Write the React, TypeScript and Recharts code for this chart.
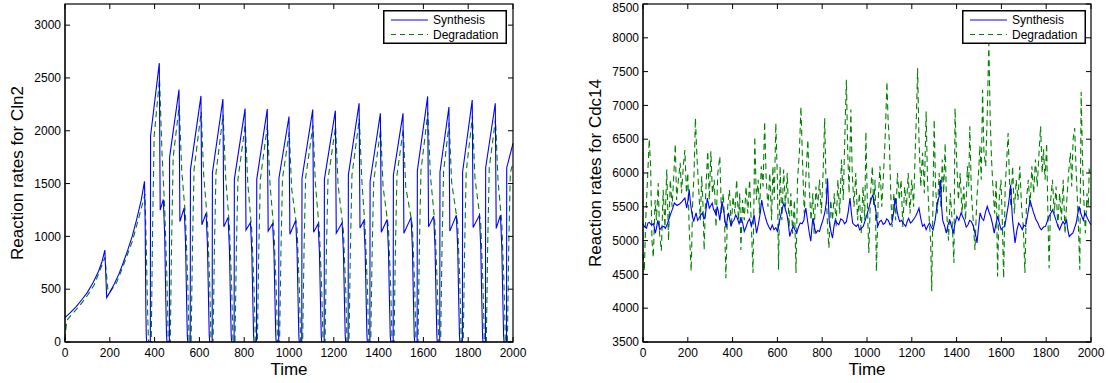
import React from "react";
import { LineChart, Line, XAxis, YAxis } from "recharts";

const FONT = "'Liberation Sans', Arial, Helvetica, sans-serif";

const timeTicks = [0, 200, 400, 600, 800, 1000, 1200, 1400, 1600, 1800, 2000];
const cln2Ticks = [0, 500, 1000, 1500, 2000, 2500, 3000];
const cdc14Ticks = [3500, 4000, 4500, 5000, 5500, 6000, 6500, 7000, 7500, 8000, 8500];

// Cln2 reaction rates [time, rate]
const cln2Synthesis: [number, number][] = [
  [0, 230], [25, 280], [50, 335], [75, 400], [100, 470], [125, 560], [150, 670], [165, 760], [178, 870],
  [186, 420], [200, 470], [220, 550], [240, 640], [260, 750], [280, 870], [300, 1000], [320, 1160],
  [340, 1340], [355, 1520], [358, 1100], [361, 300], [363, 50], [365, 0], [381, 0],
  [382, 1950], [421, 2640], [425, 1250], [439, 1350], [445, 1010], [450, 400], [453, 80], [455, 0], [466, 0],
  [467, 1750], [509, 2390], [513, 1140], [532, 1270], [538, 950], [543, 380], [546, 60], [548, 0], [559, 0],
  [560, 1630], [607, 2330], [611, 1110], [630, 1220], [636, 915], [641, 365], [644, 60], [646, 0], [657, 0],
  [658, 1600], [705, 2300], [709, 1090], [728, 1180], [734, 885], [739, 355], [742, 60], [744, 0], [755, 0],
  [756, 1540], [804, 2210], [808, 1060], [828, 1130], [834, 850], [839, 340], [842, 60], [844, 0], [855, 0],
  [856, 1540], [903, 2205], [907, 1050], [927, 1120], [933, 840], [938, 335], [941, 60], [943, 0], [954, 0],
  [955, 1550], [1000, 2135], [1004, 1020], [1030, 1150], [1036, 860], [1041, 345], [1044, 60], [1046, 0], [1057, 0],
  [1058, 1550], [1106, 2200], [1110, 1040], [1130, 1120], [1136, 840], [1141, 335], [1144, 60], [1146, 0], [1157, 0],
  [1158, 1540], [1207, 2190], [1211, 1030], [1237, 1130], [1243, 850], [1248, 340], [1251, 60], [1253, 0], [1264, 0],
  [1265, 1580], [1313, 2260], [1317, 1080], [1334, 1150], [1340, 860], [1345, 345], [1348, 60], [1350, 0], [1361, 0],
  [1362, 1520], [1408, 2165], [1412, 1040], [1438, 1160], [1444, 870], [1449, 350], [1452, 60], [1454, 0], [1465, 0],
  [1466, 1580], [1509, 2165], [1513, 1030], [1545, 1180], [1551, 885], [1556, 355], [1559, 60], [1561, 0], [1572, 0],
  [1573, 1620], [1619, 2325], [1623, 1090], [1646, 1190], [1652, 890], [1657, 355], [1660, 60], [1662, 0], [1673, 0],
  [1674, 1610], [1714, 2225], [1718, 1050], [1747, 1200], [1753, 900], [1758, 360], [1761, 60], [1763, 0], [1774, 0],
  [1775, 1610], [1818, 2290], [1822, 1085], [1850, 1200], [1856, 900], [1861, 360], [1864, 60], [1866, 0], [1877, 0],
  [1878, 1650], [1921, 2260], [1925, 1075], [1944, 1200], [1950, 900], [1955, 360], [1958, 60], [1960, 0], [1971, 0],
  [1972, 1650], [2000, 1880],
];

const cln2Degradation: [number, number][] = [
  [0, 20], [5, 150], [12, 215], [30, 260], [60, 330], [100, 440], [130, 540], [160, 700], [178, 800],
  [185, 650], [192, 480], [200, 470], [230, 560], [260, 720], [300, 950], [330, 1180], [357, 1400],
  [363, 900], [368, 350], [372, 50], [374, 0], [385, 0],
  [391, 1070], [398, 1950], [422, 2490], [433, 1795], [445, 1270], [455, 610], [461, 0], [470, 0],
  [476, 960], [483, 1750], [510, 2240], [521, 1625], [538, 1190], [548, 570], [554, 0], [563, 0],
  [569, 900], [576, 1630], [608, 2180], [619, 1585], [636, 1140], [646, 550], [652, 0], [661, 0],
  [667, 880], [674, 1600], [706, 2150], [717, 1565], [734, 1100], [744, 530], [750, 0], [759, 0],
  [765, 850], [772, 1540], [805, 2060], [816, 1500], [834, 1050], [844, 510], [850, 0], [859, 0],
  [865, 850], [872, 1540], [904, 2055], [915, 1500], [933, 1040], [943, 505], [949, 0], [958, 0],
  [964, 850], [971, 1550], [1001, 1985], [1012, 1450], [1036, 1070], [1046, 520], [1052, 0], [1061, 0],
  [1067, 850], [1074, 1550], [1107, 2050], [1118, 1495], [1136, 1040], [1146, 505], [1152, 0], [1161, 0],
  [1167, 850], [1174, 1540], [1208, 2040], [1219, 1490], [1243, 1050], [1253, 510], [1259, 0], [1268, 0],
  [1274, 870], [1281, 1580], [1314, 2110], [1325, 1535], [1340, 1070], [1350, 520], [1356, 0], [1365, 0],
  [1371, 835], [1378, 1520], [1409, 2015], [1420, 1470], [1444, 1080], [1454, 520], [1460, 0], [1469, 0],
  [1475, 870], [1482, 1580], [1510, 2015], [1521, 1470], [1551, 1100], [1561, 530], [1567, 0], [1576, 0],
  [1582, 890], [1589, 1620], [1620, 2175], [1631, 1580], [1652, 1110], [1662, 535], [1668, 0], [1677, 0],
  [1683, 885], [1690, 1610], [1715, 2075], [1726, 1515], [1753, 1120], [1763, 540], [1769, 0], [1778, 0],
  [1784, 885], [1791, 1610], [1819, 2140], [1830, 1555], [1856, 1120], [1866, 540], [1872, 0], [1881, 0],
  [1887, 910], [1894, 1650], [1922, 2110], [1933, 1535], [1950, 1120], [1960, 540], [1966, 0], [1975, 0],
  [1981, 900], [1988, 1600], [2000, 1700],
];

// Cdc14 reaction rates [time, rate]
const cdc14Synthesis: [number, number][] = [
  [0, 5250], [8, 5200], [16, 5185], [22, 5260], [28, 5270], [38, 5230], [47, 5250], [55, 5110], [60, 5180],
  [66, 5300], [75, 5160], [84, 5200], [94, 5210], [100, 5180], [109, 5250], [117, 5330], [125, 5410], [132, 5470],
  [140, 5555], [152, 5520], [164, 5545], [172, 5570], [179, 5600], [187, 5630], [195, 5480], [201, 5600],
  [206, 5760], [212, 5550], [218, 5410], [226, 5280], [232, 5350], [237, 5410], [244, 5300], [250, 5330],
  [258, 5380], [265, 5410], [272, 5320], [278, 5360], [287, 5630], [296, 5480], [303, 5520], [309, 5555],
  [315, 5460], [320, 5430], [326, 5380], [331, 5505], [337, 5420], [343, 5300], [348, 5450], [353, 5580],
  [358, 5480], [362, 5410], [366, 5300], [371, 5190], [377, 5330], [382, 5410], [388, 5300], [393, 5210],
  [400, 5280], [406, 5300], [414, 5380], [421, 5330], [429, 5250], [437, 5330], [445, 5260], [452, 5135],
  [460, 5200], [468, 5280], [476, 5320], [484, 5210], [490, 5290], [496, 5380], [502, 5240], [507, 5110],
  [512, 5190], [518, 5300], [524, 5420], [530, 5600], [534, 5520], [538, 5455], [546, 5350], [554, 5260],
  [562, 5200], [569, 5160], [577, 5230], [585, 5160], [593, 5190], [600, 5135], [606, 5230], [612, 5330],
  [620, 5450], [629, 5555], [636, 5460], [643, 5380], [649, 5250], [655, 5060], [663, 5150], [671, 5210],
  [678, 5160], [686, 5110], [694, 5200], [702, 5260], [710, 5250], [718, 5300], [722, 5400], [727, 5480],
  [731, 5380], [736, 5260], [742, 5120], [749, 4990], [753, 5150], [758, 5330], [765, 5200], [772, 5110],
  [780, 5150], [788, 5135], [795, 5220], [803, 5300], [809, 5380], [814, 5455], [819, 5600], [824, 5920],
  [828, 5550], [831, 5300], [838, 5150], [846, 5035], [852, 5200], [858, 5300], [866, 5260], [874, 5235],
  [883, 5320], [892, 5300], [900, 5250], [908, 5280], [916, 5420], [924, 5630], [930, 5420], [936, 5260],
  [944, 5230], [952, 5210], [960, 5240], [967, 5160], [975, 5180], [983, 5210], [992, 5300], [1002, 5410],
  [1008, 5480], [1014, 5555], [1020, 5620], [1026, 5680], [1032, 5560], [1039, 5455], [1044, 5300], [1048, 5210],
  [1056, 5280], [1064, 5300], [1072, 5240], [1080, 5260], [1088, 5320], [1095, 5300], [1103, 5230], [1111, 5260],
  [1118, 5400], [1126, 5630], [1132, 5480], [1139, 5360], [1146, 5280], [1154, 5300], [1163, 5250], [1173, 5210],
  [1180, 5290], [1186, 5330], [1194, 5260], [1201, 5280], [1209, 5320], [1217, 5360], [1225, 5420], [1232, 5480],
  [1240, 5330], [1248, 5210], [1256, 5240], [1264, 5160], [1272, 5220], [1279, 5260], [1287, 5200], [1295, 5160],
  [1304, 5300], [1314, 5555], [1322, 5650], [1329, 5900], [1333, 5500], [1338, 5300], [1346, 5220], [1354, 5110],
  [1362, 5240], [1370, 5300], [1378, 5200], [1385, 5110], [1393, 5250], [1401, 5360], [1410, 5300], [1420, 5410],
  [1428, 5350], [1435, 5300], [1443, 5200], [1451, 5235], [1458, 5300], [1466, 5280], [1474, 5220], [1482, 5110],
  [1487, 5050], [1491, 4965], [1498, 5200], [1505, 5410], [1513, 5330], [1521, 5300], [1529, 5420], [1537, 5505],
  [1545, 5420], [1552, 5360], [1560, 5250], [1568, 5110], [1576, 5250], [1583, 5360], [1591, 5260], [1599, 5160],
  [1607, 5200], [1615, 5210], [1622, 5350], [1630, 5505], [1636, 5650], [1641, 5825], [1646, 5500], [1650, 5300],
  [1656, 5120], [1661, 4965], [1669, 5150], [1677, 5260], [1685, 5220], [1693, 5160], [1700, 5230], [1708, 5210],
  [1718, 5400], [1728, 5600], [1736, 5500], [1744, 5410], [1753, 5320], [1763, 5260], [1770, 5200], [1778, 5160],
  [1788, 5200], [1797, 5210], [1805, 5290], [1813, 5360], [1820, 5400], [1828, 5455], [1836, 5380], [1844, 5300],
  [1852, 5220], [1860, 5160], [1868, 5230], [1875, 5280], [1883, 5240], [1891, 5300], [1897, 5150], [1903, 5060],
  [1911, 5090], [1919, 5110], [1926, 5180], [1934, 5260], [1940, 5380], [1947, 5505], [1953, 5420], [1959, 5360],
  [1966, 5300], [1972, 5410], [1978, 5380], [1984, 5330], [1992, 5280], [2000, 5235],
];

const cdc14Degradation: [number, number][] = [
  [0, 4800], [6, 4550], [12, 5300], [20, 5900], [28, 6500], [34, 6100], [40, 5000], [46, 4750], [54, 5600],
  [60, 5300], [68, 5850], [74, 5100], [82, 4850], [90, 5750], [98, 5200], [106, 6050], [114, 5000], [122, 5900],
  [130, 5500], [138, 6000], [144, 6430], [150, 5600], [158, 5900], [166, 6150], [172, 5700], [180, 6100],
  [187, 6340], [194, 5700], [200, 6000], [206, 5200], [215, 4550], [222, 5600], [228, 6000], [234, 6810],
  [240, 6300], [248, 5800], [256, 5300], [262, 5950], [268, 5500], [273, 4860], [280, 5700], [289, 6320],
  [296, 5600], [303, 6320], [310, 5700], [318, 5900], [326, 5200], [334, 6000], [343, 6245], [350, 5400],
  [358, 5700], [364, 5300], [370, 4445], [378, 5500], [386, 5750], [394, 5200], [402, 5650], [410, 5400],
  [418, 5900], [426, 5300], [432, 5700], [437, 4860], [444, 5600], [452, 5300], [460, 5800], [468, 5400],
  [476, 5900], [484, 5200], [491, 4520], [499, 6540], [506, 5600], [514, 5900], [520, 5400], [528, 6100],
  [536, 5800], [543, 6760], [550, 5900], [558, 5500], [566, 6000], [574, 5300], [580, 6100], [586, 5600],
  [593, 6735], [600, 5900], [605, 4570], [612, 6100], [620, 5300], [628, 6050], [636, 5500], [644, 6000],
  [652, 5200], [660, 5700], [668, 5100], [676, 5600], [683, 4520], [690, 5900], [698, 6300], [705, 6980],
  [712, 6200], [720, 5400], [728, 6000], [736, 6490], [742, 5800], [750, 5300], [758, 5700], [764, 5100],
  [772, 5800], [780, 5500], [788, 5900], [796, 5400], [804, 6000], [811, 6810], [818, 5700], [824, 5200],
  [830, 4890], [838, 5600], [846, 5300], [854, 5700], [862, 5200], [870, 5900], [878, 5400], [886, 6200],
  [894, 5600], [900, 6400], [908, 7380], [914, 6300], [920, 5700], [928, 6940], [934, 6000], [942, 5500],
  [950, 6000], [958, 5300], [966, 5700], [974, 5100], [982, 5800], [990, 5300], [995, 6610], [1002, 5500],
  [1008, 4815], [1016, 5700], [1024, 6100], [1030, 5500], [1036, 5900], [1042, 4545], [1050, 5600], [1058, 6100],
  [1066, 5500], [1074, 6000], [1082, 6600], [1089, 7350], [1094, 6800], [1100, 6440], [1106, 5700], [1112, 5200],
  [1120, 5700], [1128, 5300], [1136, 6000], [1144, 5600], [1152, 5900], [1160, 5200], [1168, 5800], [1176, 5500],
  [1184, 6000], [1192, 5400], [1200, 5900], [1208, 5500], [1216, 6400], [1221, 6900], [1226, 7550], [1232, 6500],
  [1240, 5800], [1248, 6300], [1256, 5700], [1264, 6910], [1270, 5900], [1278, 5300], [1284, 5000], [1289, 4250],
  [1294, 5500], [1300, 6790], [1306, 5800], [1314, 5400], [1322, 6000], [1330, 5500], [1336, 6200], [1342, 5700],
  [1349, 6440], [1356, 5400], [1364, 5000], [1372, 5700], [1380, 5300], [1388, 4670], [1393, 6960], [1400, 6200],
  [1408, 5600], [1416, 6000], [1424, 5400], [1432, 5800], [1440, 5300], [1448, 6100], [1454, 5800], [1459, 6690],
  [1466, 5700], [1474, 5300], [1482, 4860], [1490, 5600], [1498, 6000], [1504, 6400], [1510, 5900], [1516, 7230],
  [1522, 6300], [1530, 6100], [1537, 6900], [1544, 7920], [1550, 6800], [1556, 6200], [1562, 5800], [1570, 5400],
  [1577, 5900], [1583, 4470], [1590, 5600], [1598, 5900], [1604, 5300], [1610, 4445], [1617, 5800], [1624, 6200],
  [1630, 6590], [1636, 5900], [1642, 5500], [1650, 6100], [1658, 5400], [1666, 5900], [1674, 5600], [1682, 6100],
  [1690, 5500], [1698, 5200], [1705, 4520], [1712, 5600], [1720, 5900], [1728, 5500], [1736, 6100], [1744, 5700],
  [1752, 6200], [1760, 5800], [1768, 6300], [1775, 6690], [1782, 6000], [1788, 6350], [1795, 5900], [1802, 6440],
  [1808, 5300], [1813, 4590], [1820, 5600], [1828, 5900], [1836, 5400], [1844, 5800], [1852, 5200], [1860, 5700],
  [1868, 5300], [1876, 5900], [1884, 5100], [1892, 5600], [1900, 6000], [1908, 6300], [1914, 5800], [1920, 6500],
  [1927, 6665], [1934, 6000], [1942, 5400], [1950, 4570], [1956, 7200], [1962, 6200], [1968, 5600], [1975, 5110],
  [1982, 5700], [1988, 5500], [1992, 6050], [2000, 6000],
];

const toRows = (pts: [number, number][]) => pts.map(([t, v]) => ({ t, v }));

const BLUE = "#0000ff";
const GREEN = "#008000";
const tickStyle = { fontSize: 12, fill: "#000", fontFamily: FONT };

// plot box inside each 530 x 383 panel
const BOX = { left: 65, top: 4, width: 448, height: 338 };
const TICK = 5;

interface PanelProps {
  left: number;
  domain: [number, number];
  yTicks: number[];
  yLabel: string;
  synthesis: [number, number][];
  degradation: [number, number][];
}

const Panel: React.FC<PanelProps> = ({ left, domain, yTicks, yLabel, synthesis, degradation }) => (
  <div style={{ position: "absolute", left, top: 0, width: 530, height: 383 }}>
    <LineChart width={530} height={383} margin={{ top: BOX.top, right: 530 - BOX.left - BOX.width, bottom: 0, left: 0 }}>
      <XAxis
        type="number"
        dataKey="t"
        domain={[0, 2000]}
        ticks={timeTicks}
        height={383 - BOX.top - BOX.height}
        tickSize={-TICK}
        tickMargin={11}
        stroke="#000"
        tick={tickStyle}
        label={{ value: "Time", position: "insideBottom", offset: 8, fontSize: 17, fill: "#000", fontFamily: FONT }}
      />
      <YAxis
        type="number"
        domain={domain}
        ticks={yTicks}
        width={BOX.left}
        tickSize={-TICK}
        tickMargin={9}
        stroke="#000"
        tick={tickStyle}
        allowDataOverflow
        label={{
          value: yLabel, angle: -90, position: "insideLeft", offset: 17,
          fontSize: 17, fill: "#000", fontFamily: FONT, style: { textAnchor: "middle" },
        }}
      />
      <Line
        data={toRows(degradation)}
        dataKey="v"
        type="linear"
        stroke={GREEN}
        strokeWidth={1.1}
        strokeDasharray="6 4"
        dot={false}
        isAnimationActive={false}
      />
      <Line
        data={toRows(synthesis)}
        dataKey="v"
        type="linear"
        stroke={BLUE}
        strokeWidth={1.1}
        dot={false}
        isAnimationActive={false}
      />
    </LineChart>
  </div>
);

// top and right edges of the MATLAB box with their inward ticks, drawn as a page-level overlay
const BoxFrame: React.FC<{ left: number; domain: [number, number]; yTicks: number[] }> = ({ left, domain, yTicks }) => {
  const right = BOX.left + BOX.width;
  const bottom = BOX.top + BOX.height;
  const xs = timeTicks.map((t) => BOX.left + (BOX.width * t) / 2000);
  const ys = yTicks.map((v) => bottom - (BOX.height * (v - domain[0])) / (domain[1] - domain[0]));
  return (
    <svg style={{ position: "absolute", left, top: 0, zIndex: 4, pointerEvents: "none" }} width={530} height={383}>
      <rect x={BOX.left} y={BOX.top} width={BOX.width} height={BOX.height} fill="none" stroke="#000" strokeWidth={1.2} />
      {xs.map((x, i) => (
        <line key={`tx${i}`} x1={x} x2={x} y1={BOX.top} y2={BOX.top + TICK} stroke="#000" />
      ))}
      {ys.map((y, i) => (
        <line key={`ry${i}`} x1={right} x2={right - TICK} y1={y} y2={y} stroke="#000" />
      ))}
    </svg>
  );
};

const LegendBox: React.FC<{ left: number }> = ({ left }) => (
  <svg style={{ position: "absolute", left, top: 10, zIndex: 6 }} width={124} height={34}>
    <rect x={0.75} y={0.75} width={122.5} height={32.5} fill="#fff" stroke="#000" strokeWidth={1.5} />
    <line x1={8} x2={45} y1={10} y2={10} stroke={BLUE} strokeWidth={1.1} />
    <line x1={8} x2={45} y1={24.5} y2={24.5} stroke={GREEN} strokeWidth={1.1} strokeDasharray="5 4" />
    <text x={50} y={14.3} fontSize={12} fontFamily={FONT} fill="#000">Synthesis</text>
    <text x={50} y={28.8} fontSize={12} fontFamily={FONT} fill="#000">Degradation</text>
  </svg>
);

export default function App() {
  return (
    <div style={{ position: "absolute", left: 0, top: 0, width: 1108, height: 383, background: "#fff", fontFamily: FONT }}>
      <Panel left={0} domain={[0, 3200]} yTicks={cln2Ticks} yLabel="Reaction rates for Cln2"
        synthesis={cln2Synthesis} degradation={cln2Degradation} />
      <Panel left={578} domain={[3500, 8500]} yTicks={cdc14Ticks} yLabel="Reaction rates for Cdc14"
        synthesis={cdc14Synthesis} degradation={cdc14Degradation} />
      <BoxFrame left={0} domain={[0, 3200]} yTicks={cln2Ticks} />
      <BoxFrame left={578} domain={[3500, 8500]} yTicks={cdc14Ticks} />
      <LegendBox left={383} />
      <LegendBox left={962} />
    </div>
  );
}
